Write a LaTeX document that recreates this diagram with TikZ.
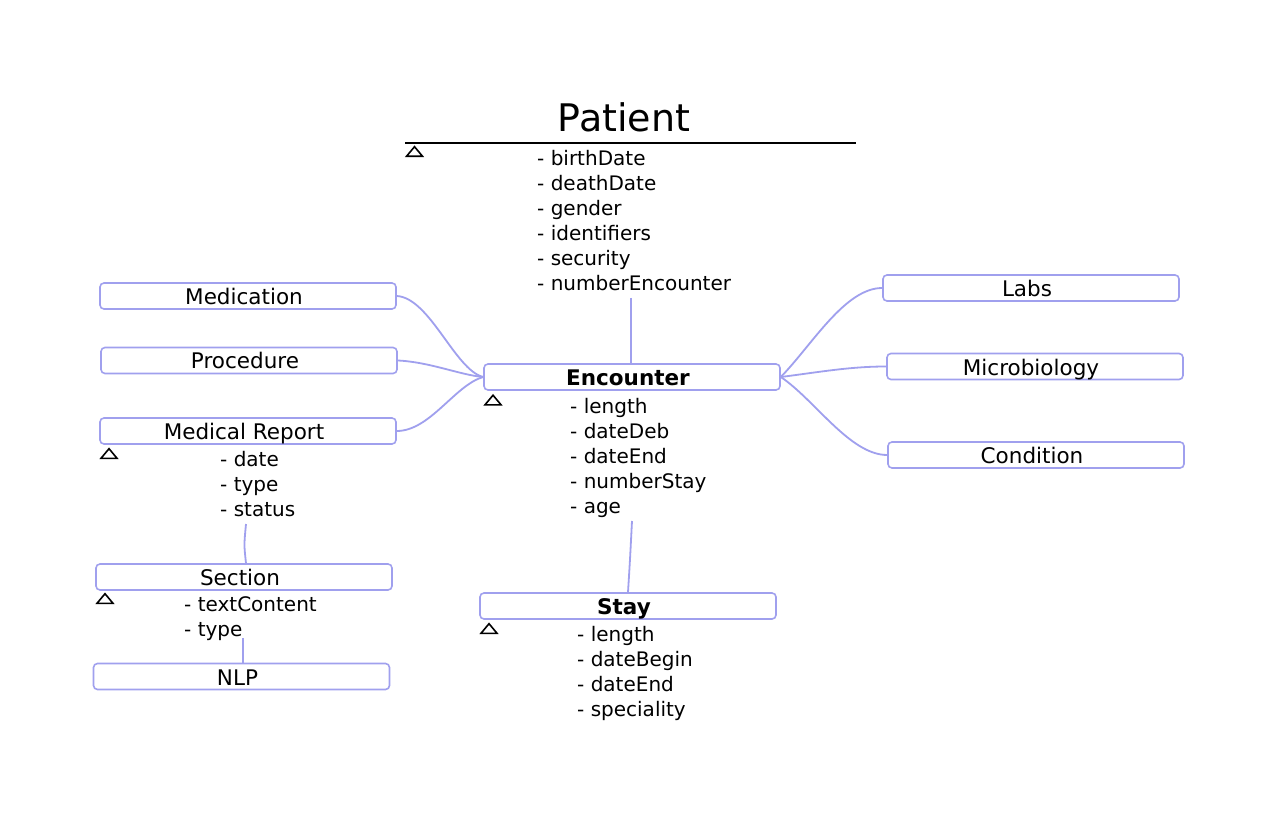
\documentclass[tikz,border=0pt]{standalone}
\usepackage{fontspec}
\setmainfont{DejaVu Sans}
\definecolor{linkc}{RGB}{160,160,238}
\begin{document}
\begin{tikzpicture}[x=1pt,y=-1pt,
  cls/.style={draw=linkc,line width=1.6pt,rounded corners=4pt,minimum width=296pt,minimum height=26pt,inner sep=0pt,fill=white,font=\fontsize{21.5}{25}\selectfont,text height=17.5pt,text depth=0.5pt,execute at begin node={\hspace*{-8pt}}},
  attr/.style={anchor=west,inner sep=0pt,text height=14.5pt,text depth=4pt,font=\fontsize{20}{24}\selectfont},
  link/.style={draw=linkc,line width=1.8pt},
  tri/.pic={\draw[line width=1.6pt,line join=miter] (-8,4.8) -- (8,4.8) -- (0,-4.8) -- cycle;}
]
\useasboundingbox (0,0) rectangle (1280,818);
\fill[white] (0,0) rectangle (1280,818);

% Patient
\node[inner sep=0pt,font=\fontsize{38}{44}\selectfont] (patient) at (624,117) {Patient};
\coordinate (pl) at (405,143);
\coordinate (pr) at (856,143);
\draw[line width=1.8pt] (pl) -- (pr);
\pic at (414.5,151.5) {tri};
\foreach \t [count=\i] in {birthDate,deathDate,gender,identifiers,security,numberEncounter}
  \node[attr] (pa\i) at (537,{135+25*\i}) {- \t};
\coordinate (pbot) at (631,298);

% Encounter
\node[cls] (enc) at (632,377) {\bfseries Encounter};
\pic at (493,400) {tri};
\foreach \t [count=\i] in {length,dateDeb,dateEnd,numberStay,age}
  \node[attr] (ea\i) at (570,{383+25*\i}) {- \t};
\coordinate (ebot) at (632,521);

% Stay
\node[cls] (stay) at (628,606) {\bfseries Stay};
\pic at (489,628.5) {tri};
\foreach \t [count=\i] in {length,dateBegin,dateEnd,speciality}
  \node[attr] (sa\i) at (577,{611+25*\i}) {- \t};

% Left
\node[cls] (med) at (248,296) {Medication};
\node[cls] (proc) at (249,360.5) {Procedure};
\node[cls] (mrep) at (248,431) {Medical Report};
\pic at (109,453.5) {tri};
\foreach \t [count=\i] in {date,type,status}
  \node[attr] (ma\i) at (220,{436+25*\i}) {- \t};
\coordinate (mbot) at (246,524);

\node[cls] (sec) at (244,577) {Section};
\pic at (105,598.5) {tri};
\foreach \t [count=\i] in {textContent,type}
  \node[attr] (sc\i) at (184,{581+25*\i}) {- \t};
\coordinate (sbot) at (243,638);

\node[cls] (nlp) at (241.5,676.5) {NLP};

% Right
\node[cls] (labs) at (1031,288) {Labs};
\node[cls] (micro) at (1035,366.5) {Microbiology};
\node[cls] (cond) at (1036,455) {Condition};

% Links
\draw[link] (pbot) .. controls (631,330) .. (enc.north -| pbot);
\draw[link] (ebot) .. controls (630,560) .. (stay.north);
\draw[link] (mbot) .. controls (244,545) .. (sec.north -| mbot);
\draw[link] (nlp.north -| sbot) .. controls (243,648) .. (sbot);

\draw[link] (med.east) .. controls (430,298) and (455,370) .. (enc.west);
\draw[link] (proc.east) .. controls (430,362) and (460,375) .. (enc.west);
\draw[link] (mrep.east) .. controls (430,431) and (455,385) .. (enc.west);

\draw[link] (enc.east) .. controls (812,345) and (845,288) .. (labs.west);
\draw[link] (enc.east) .. controls (820,372) and (850,366.5) .. (micro.west);
\draw[link] (enc.east) .. controls (815,400) and (850,455) .. (cond.west);
\end{tikzpicture}
\end{document}
